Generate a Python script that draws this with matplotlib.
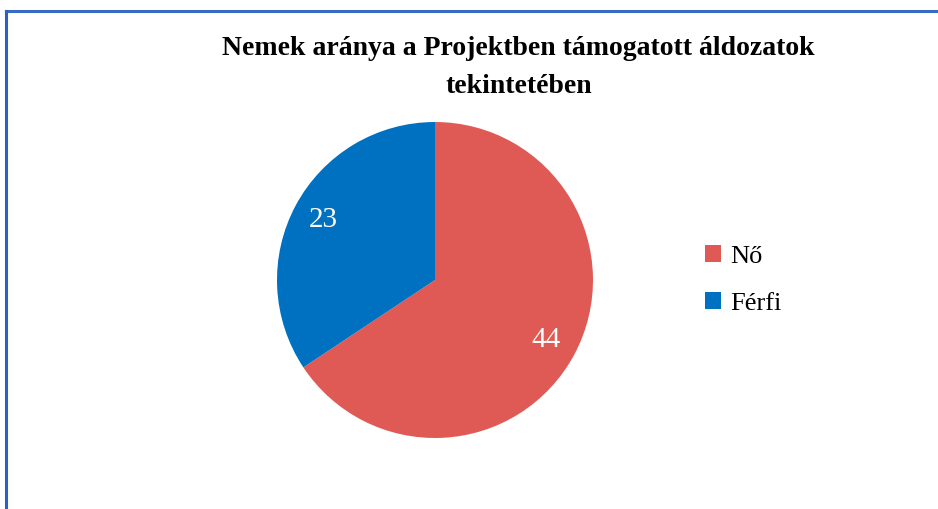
import matplotlib.pyplot as plt
from matplotlib.lines import Line2D
from matplotlib.patches import Patch

# adatok
kategoriak = ['Nő', 'Férfi']
ertekek = [44, 23]
szinek = ['#E05A55', '#0070C0']

plt.rcParams['font.family'] = ['Liberation Serif', 'DejaVu Serif']

fig = plt.figure(figsize=(9.38, 5.09), dpi=100)

# keret (bal és felső vonal)
fig.add_artist(Line2D([0.0068, 1.0], [1 - 11 / 509, 1 - 11 / 509],
                      transform=fig.transFigure, color='#3A6BC4', linewidth=2.2))
fig.add_artist(Line2D([0.0068, 0.0068], [0.0, 1 - 11 / 509],
                      transform=fig.transFigure, color='#2A62C4', linewidth=2.2))

ax = fig.add_axes([0.2953, 0.1395, 0.3369, 0.6208])
wedges, texts, autotexts = ax.pie(
    ertekek, colors=szinek, startangle=90, counterclock=False,
    autopct=lambda p: '{:.0f}'.format(p * sum(ertekek) / 100),
    pctdistance=0.8, textprops=dict(color='white', fontsize=21))
ax.set_xlim(-1, 1)
ax.set_ylim(-1, 1)
ax.set_aspect('equal')

fig.text(0.553, 0.867, 'Nemek aránya a Projektben támogatott áldozatok\ntekintetében',
         ha='center', va='center', fontsize=20, fontweight='bold', linespacing=1.7)

kezelok = [Patch(facecolor=c, edgecolor='none') for c in szinek]
fig.legend(kezelok, kategoriak, loc='center left', bbox_to_anchor=(0.726, 0.45),
           frameon=False, fontsize=19, handlelength=0.6, handleheight=0.6,
           handletextpad=0.35, labelspacing=0.9)

fig.savefig('out.png', dpi=100)
